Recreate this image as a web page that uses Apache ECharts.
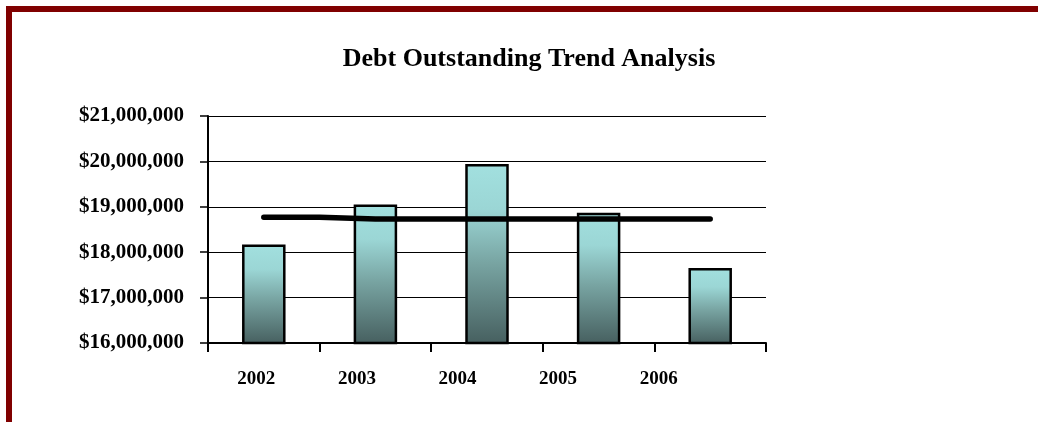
<!DOCTYPE html>
<html>
<head>
<meta charset="utf-8">
<script src="https://cdn.jsdelivr.net/npm/echarts@6/dist/echarts.min.js"></script>
<style>
  html, body { margin: 0; padding: 0; background: #ffffff; }
  #frame { position: absolute; left: 6px; top: 6px; right: 0; bottom: 0;
           border-top: 6px solid #800000; border-left: 6px solid #800000; }
  #chart { position: absolute; left: 0; top: 0; width: 1038px; height: 422px; }
</style>
</head>
<body>
<div id="frame"></div>
<div id="chart"></div>
<script>
// Fiscal years and year-end debt outstanding (USD)
const years = ['2002', '2003', '2004', '2005', '2006'];
const debtOutstanding = [18170000, 19050000, 19940000, 18870000, 17650000];
// Trend level drawn across the years
const trendLevel = [18770000, 18730000, 18730000, 18730000, 18730000];
// Value axis ticks
const yTicks = [16000000, 17000000, 18000000, 19000000, 20000000, 21000000];

const serif = '"Liberation Serif", "Times New Roman", serif';

function money(v) {
  return '$' + v.toLocaleString('en-US');
}

const chart = echarts.init(document.getElementById('chart'), null, { renderer: 'canvas' });

chart.setOption({
  animation: false,
  backgroundColor: 'transparent',
  title: {
    text: 'Debt Outstanding Trend Analysis',
    left: 524,
    top: 41,
    textAlign: 'center',
    textStyle: { fontFamily: serif, fontWeight: 'bold', fontSize: 26, color: '#000' }
  },
  grid: [
    // plot area
    { left: 208, top: 116, width: 558, height: 227, containLabel: false },
    // category label band
    { left: 206, top: 116, width: 503, height: 227, containLabel: false }
  ],
  xAxis: [
    {
      type: 'category',
      gridIndex: 0,
      data: years,
      axisLine: { lineStyle: { color: '#000', width: 2 } },
      axisTick: { show: true, inside: false, length: 9, lineStyle: { color: '#000', width: 2 } },
      axisLabel: { show: false },
      splitLine: { show: false }
    },
    {
      type: 'category',
      gridIndex: 1,
      data: years,
      axisLine: { show: false },
      axisTick: { show: false },
      axisLabel: { margin: 27, fontFamily: serif, fontWeight: 'bold', fontSize: 19, color: '#000' },
      splitLine: { show: false }
    }
  ],
  yAxis: [
    {
      type: 'value',
      gridIndex: 0,
      min: yTicks[0],
      max: yTicks[yTicks.length - 1],
      interval: 1000000,
      axisLine: { show: true, lineStyle: { color: '#000', width: 2 } },
      axisTick: { show: true, inside: false, length: 8, lineStyle: { color: '#000', width: 1.5 } },
      axisLabel: { margin: 24, fontFamily: serif, fontWeight: 'bold', fontSize: 21, color: '#000',
                   formatter: money },
      splitLine: { show: true, lineStyle: { color: '#000', width: 1 } }
    },
    {
      type: 'value',
      gridIndex: 1,
      show: false,
      min: yTicks[0],
      max: yTicks[yTicks.length - 1]
    }
  ],
  series: [
    {
      name: 'Debt Outstanding',
      type: 'bar',
      xAxisIndex: 0,
      yAxisIndex: 0,
      data: debtOutstanding,
      barWidth: 43.5,
      itemStyle: {
        borderColor: '#000',
        borderWidth: 2.5,
        color: new echarts.graphic.LinearGradient(0, 0, 0, 1, [
          { offset: 0, color: '#a2e0df' },
          { offset: 0.25, color: '#9bd6d5' },
          { offset: 0.55, color: '#78a4a2' },
          { offset: 1, color: '#465f5f' }
        ])
      }
    },
    {
      name: 'Trend',
      type: 'line',
      xAxisIndex: 0,
      yAxisIndex: 0,
      data: trendLevel,
      step: 'middle',
      symbol: 'none',
      z: 5,
      lineStyle: { color: '#000', width: 5.5, cap: 'round', join: 'round' }
    }
  ]
});
</script>
</body>
</html>
